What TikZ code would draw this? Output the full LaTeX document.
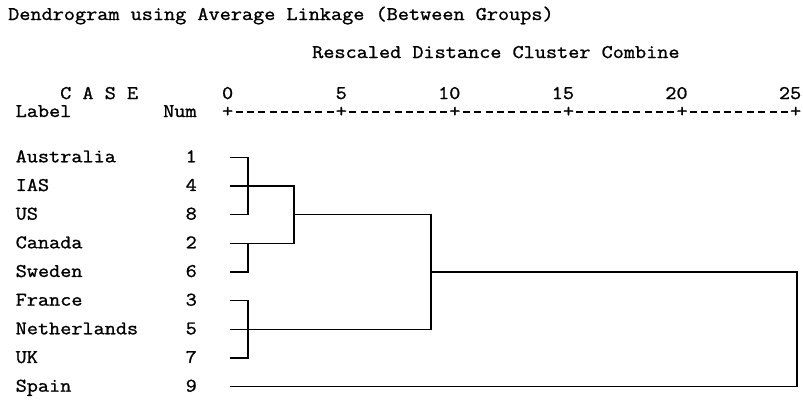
\documentclass[tikz,border=0pt]{standalone}
\usepackage{fontspec}
\setmonofont{Latin Modern Mono}[FakeStretch=1.12, FakeBold=1.2]
\usetikzlibrary{positioning}
\tikzset{
  listing/.style={font=\ttfamily\fontsize{19.3}{22}\selectfont, inner sep=0pt},
  link/.style={line width=1.6pt, line cap=rect}
}

\begin{document}
\begin{tikzpicture}[x=1pt,y=-1pt]
  \useasboundingbox (0,0) rectangle (803,399);
%      \draw [help lines, step=10] (0,0) grid (803,399);
  \node[listing, anchor=base west] (title) at (8,20) {Dendrogram using Average Linkage (Between Groups)};
  \node[listing, anchor=base west] (subtitle) at (312,58) {Rescaled Distance Cluster Combine};
  \node[listing, anchor=base west] (case) at (60,99) {C A S E};
  \node[listing, anchor=base west] (label) at (15.5,117) {Label};
  \node[listing, anchor=base west] (num) at (163,117) {Num};

  %% scale: one unit of distance is 22.72, a tick every 5
  \foreach \d in {0,5,...,25} {
    \node[listing, anchor=base] (t\d) at (227.7+22.72*\d,117) {+};
    \node[listing, anchor=base east] (n\d) at (233.4+22.72*\d,99) {\d};
  }
  \foreach \a/\b in {0/5,5/10,10/15,15/20,20/25} {
    %% nine dashes between two ticks
    \draw [line width=1.2pt, dash pattern=on 7pt off 4.36pt, dash phase=9.18pt]
      (t\a.east) -- (t\b.west);
  }

  %% one row per case
  \foreach \name/\n [count=\i from 0] in {Australia/1,IAS/4,US/8,Canada/2,Sweden/6,France/3,Netherlands/5,UK/7,Spain/9} {
    \def \y {157.3+28.67*\i};
    \node[listing, anchor=base west] (lab\n) at (15.5,{\y+5}) {\name};
    \node[listing, anchor=base east] (num\n) at (197,{\y+5}) {\n};
    \coordinate (leaf\n) at (231,{\y});
  }

  %% merge levels
  \coordinate (j1) at (248,0);
  \coordinate (j2) at (294,0);
  \coordinate (j3) at (431,0);
  \coordinate (j4) at (797,0);

  \draw[link] (leaf1) -- (leaf1 -| j1) -- (leaf8 -| j1) -- (leaf8);
  \draw[link] (leaf4) -- (leaf4 -| j2) -- (leaf2 -| j2) -- (leaf2);
  \draw[link] (leaf2 -| j1) -- (leaf6 -| j1) -- (leaf6);
  \draw[link] (leaf3) -- (leaf3 -| j1) -- (leaf7 -| j1) -- (leaf7);
  \draw[link] (leaf8 -| j2) -- (leaf8 -| j3) -- (leaf5 -| j3) -- (leaf5);
  \draw[link] (leaf6 -| j3) -- (leaf6 -| j4) -- (leaf9 -| j4) -- (leaf9);
\end{tikzpicture}
\end{document}
